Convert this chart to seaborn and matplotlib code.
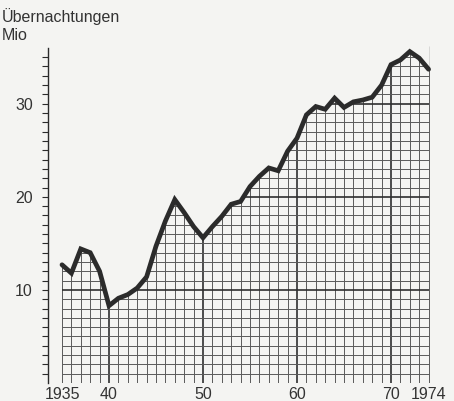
import numpy as np
import pandas as pd
import matplotlib
matplotlib.use("Agg")
import matplotlib.pyplot as plt
import seaborn as sns

years = list(range(1935, 1975))
values = [12.7, 11.8, 14.4, 14.0, 12.0, 8.3, 9.1, 9.5, 10.2, 11.4,
          14.7, 17.4, 19.7, 18.3, 16.8, 15.6, 16.8, 17.9, 19.2, 19.5,
          21.1, 22.2, 23.1, 22.8, 24.9, 26.3, 28.8, 29.7, 29.4, 30.6,
          29.6, 30.2, 30.4, 30.7, 32.0, 34.2, 34.7, 35.6, 34.9, 33.7]
xtick_pos = [1935, 1940, 1950, 1960, 1970, 1974]
xtick_labels = ["1935", "40", "50", "60", "70", "1974"]
ytick_major = [10, 20, 30]
ytick_minor = list(range(1, 36))
title_lines = ["Übernachtungen", "Mio"]

df = pd.DataFrame({"year": years, "value": values})

sns.set_theme(style="white")
plt.rcParams["font.family"] = ["Liberation Sans", "DejaVu Sans"]

bg = "#f4f4f2"
ink = "#2b2b2b"
gridc = "#5a5a5a"
majc = "#2f2f2f"

fig = plt.figure(figsize=(4.54, 4.01), dpi=100, facecolor=bg)
ax = fig.add_axes([48 / 454, 18 / 401, (440 - 48) / 454, (383 - 46) / 401])
ax.set_facecolor(bg)

x0, x1 = years[0], years[-1]
ymax = 36.2
ax.set_xlim(x0 - 14 / 9.4, x1 + 11.4 / 9.4)
ax.set_ylim(0, ymax)

# full grid within the data range
minor_years = [y for y in years if y % 10 != 0]
major_years = [y for y in years if y % 10 == 0]
ax.vlines(minor_years, 0, ymax, colors=gridc, linewidth=0.7, zorder=2)
ax.vlines(major_years, 0, ymax, colors=majc, linewidth=1.2, zorder=2)
hmin = [v for v in range(0, 37) if v % 10 != 0]
hmaj = [v for v in range(0, 37) if v % 10 == 0 and v > 0]
ax.hlines(hmin, x0, x1, colors=gridc, linewidth=0.7, zorder=2)
ax.hlines(hmaj, x0, x1, colors=majc, linewidth=1.2, zorder=2)

# blank out everything above the curve
ax.fill_between(df["year"], df["value"], ymax + 1, facecolor=bg, edgecolor=bg,
                linewidth=1.0, zorder=3)

# the curve
sns.lineplot(data=df, x="year", y="value", ax=ax, color=ink, linewidth=3.4,
             zorder=5, solid_joinstyle="miter")

for s in ["top", "right", "bottom"]:
    ax.spines[s].set_visible(False)
ax.spines["left"].set_color(ink)
ax.spines["left"].set_linewidth(1.0)
ax.spines["left"].set_bounds(0, 36)
ax.spines["left"].set_zorder(6)

ax.set_yticks(ytick_major)
ax.set_yticklabels([str(v) for v in ytick_major])
ax.set_yticks(ytick_minor, minor=True)
ax.tick_params(axis="y", which="both", direction="out", length=4, width=0.8,
               color=ink, left=True)
ax.tick_params(axis="y", which="major", labelsize=11.5, labelcolor="#333333", pad=7)

ax.set_xticks(xtick_pos)
ax.set_xticklabels(xtick_labels)
ax.tick_params(axis="x", which="both", length=0, labelsize=11.5, labelcolor="#333333", pad=3)
ax.grid(False)
ax.set_xlabel("")
ax.set_ylabel("")

fig.text(2 / 454, 1 - 22 / 401, title_lines[0], fontsize=11.5, color="#333333", ha="left", va="baseline")
fig.text(2 / 454, 1 - 40 / 401, title_lines[1], fontsize=11.5, color="#333333", ha="left", va="baseline")

fig.savefig("out.png", dpi=100, facecolor=bg)
